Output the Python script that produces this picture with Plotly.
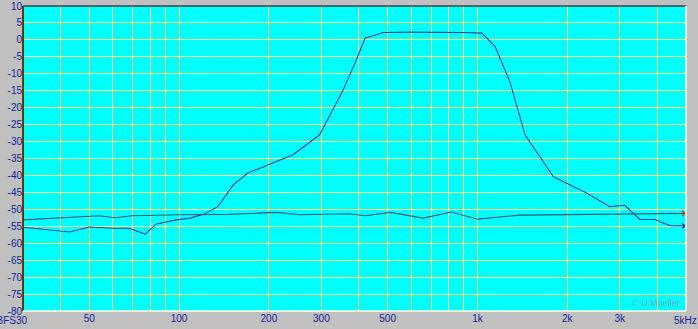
import plotly.graph_objects as go

# Main (filter) response curve
main_freq = [30, 43, 50, 60, 68, 77, 84, 98, 109, 122, 135, 152, 170, 199, 241, 296,
             355, 393, 420, 484, 602, 896, 1034, 1144, 1284, 1444, 1795, 1990, 2322,
             2778, 3120, 3500, 3930, 4410, 4950]
main_db = [-55.3, -56.7, -55.2, -55.6, -55.6, -57.3, -54.3, -53.1, -52.6, -51.3, -49.2,
           -42.8, -39.3, -36.9, -33.9, -28.0, -14.7, -5.9, 0.5, 2.2, 2.3, 2.2, 2.0,
           -1.8, -12.3, -28.0, -40.3, -42.3, -45.2, -49.2, -48.8, -53.0, -53.0, -54.8, -54.9]

# Flat (reference / noise) curve
flat_freq = [30, 40, 54, 61, 70, 100, 147, 212, 254, 373, 420, 511, 658, 818, 1004,
             1391, 1988, 3000, 4950]
flat_db = [-53.1, -52.6, -51.9, -52.5, -51.9, -51.6, -51.5, -50.9, -51.6, -51.3, -51.9,
           -50.9, -52.6, -50.8, -52.9, -51.7, -51.5, -51.3, -51.2]

x_grid = [30, 40, 50, 60, 70, 80, 90, 100, 200, 300, 400, 500, 600, 700, 800, 900,
          1000, 2000, 3000, 4000, 5000]
x_labels = ["", "", "50", "", "", "", "", "100", "200", "300", "", "500", "", "", "",
            "", "1k", "2k", "3k", "", ""]
first_label = "dBFS30"
last_label = "5kHz"
y_ticks = list(range(-80, 11, 5))
y_labels = [str(v) for v in y_ticks]

LINE_MAIN = "#1f3fae"
LINE_FLAT = "#2f5878"
TXT = "#10209a"
GRID = "#ffff80"
FONT = "Liberation Sans, Arial, sans-serif"

fig = go.Figure()
fig.add_trace(go.Scatter(x=flat_freq, y=flat_db, mode="lines",
                         line=dict(color=LINE_FLAT, width=1.1), hoverinfo="skip"))
fig.add_trace(go.Scatter(x=main_freq, y=main_db, mode="lines",
                         line=dict(color=LINE_MAIN, width=1.1), hoverinfo="skip"))
fig.add_trace(go.Scatter(x=[flat_freq[-1]], y=[flat_db[-1]], mode="markers",
                         marker=dict(symbol="x-thin", size=5, line=dict(color="#d04020", width=1.5))))
fig.add_trace(go.Scatter(x=[main_freq[-1]], y=[main_db[-1]], mode="markers",
                         marker=dict(symbol="x-thin", size=5, line=dict(color=LINE_MAIN, width=1.5))))

fig.update_layout(
    width=698, height=329,
    margin=dict(l=23, r=12, t=6, b=18, autoexpand=False),
    paper_bgcolor="#c0c0c0", plot_bgcolor="#00ffff",
    showlegend=False,
    font=dict(family=FONT, size=10, color=TXT),
    xaxis=dict(type="log", range=[1.4771213, 3.69897], tickvals=x_grid, ticktext=x_labels,
               showgrid=True, gridcolor=GRID, gridwidth=1, zeroline=False, automargin=False,
               ticks="", showline=False, tickfont=dict(color=TXT, size=10)),
    yaxis=dict(range=[-80, 10], tickvals=y_ticks, ticktext=y_labels,
               showgrid=True, gridcolor=GRID, gridwidth=1, zeroline=False, automargin=False,
               ticks="", showline=False, tickfont=dict(color=TXT, size=10)),
    shapes=[
        dict(type="line", xref="paper", yref="paper", x0=0, x1=0, y0=0, y1=1,
             line=dict(color="#5a3a10", width=2)),
        dict(type="line", xref="paper", yref="paper", x0=0, x1=1, y0=1, y1=1,
             line=dict(color="#404040", width=1.5)),
        dict(type="line", xref="paper", yref="paper", x0=0, x1=1, y0=0, y1=0,
             line=dict(color="#ffffe0", width=1.5)),
        dict(type="line", xref="paper", yref="paper", x0=1, x1=1, y0=0, y1=1,
             line=dict(color="#ffffff", width=1.5)),
    ],
    annotations=[
        dict(text=first_label, xref="paper", yref="paper", x=0, y=0, xanchor="right",
             yanchor="top", xshift=7, yshift=-2, showarrow=False,
             font=dict(color=TXT, size=10)),
        dict(text=last_label, xref="x", yref="paper", x=3.69897, y=0, xanchor="center",
             yanchor="top", xshift=-1, yshift=-2, showarrow=False,
             font=dict(color=TXT, size=10)),
        dict(text="© U.Mueller", xref="paper", yref="paper", x=1, y=0, xanchor="right",
             yanchor="bottom", xshift=-4, yshift=1, showarrow=False,
             font=dict(color="#70a8c0", size=9)),
    ],
)

fig.write_html("out.html")
